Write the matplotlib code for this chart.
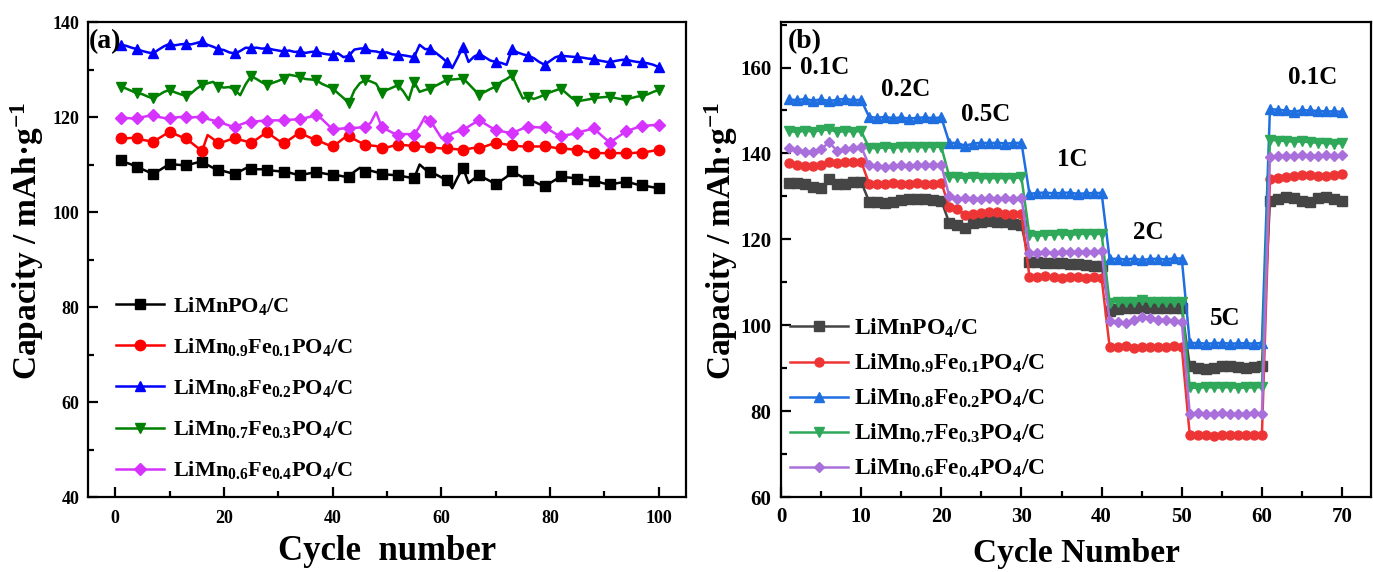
import numpy as np
import matplotlib
matplotlib.use("Agg")
import matplotlib.pyplot as plt
from matplotlib.ticker import MultipleLocator

#========================================================
# data: (a) cycling at constant rate, (b) rate capability
#========================================================
labels = ["LiMnPO$_4$/C",
          "LiMn$_{0.9}$Fe$_{0.1}$PO$_4$/C",
          "LiMn$_{0.8}$Fe$_{0.2}$PO$_4$/C",
          "LiMn$_{0.7}$Fe$_{0.3}$PO$_4$/C",
          "LiMn$_{0.6}$Fe$_{0.4}$PO$_4$/C"]

cycles_a = np.arange(1, 101)

cap_a_fe0 = [110.9, 110.4, 110.0, 109.5, 109.0, 108.5, 108.0, 108.7, 109.4, 110.1,
             110.0, 109.9, 109.9, 110.1, 110.4, 110.6, 109.9, 109.3, 108.9, 108.6,
             108.3, 108.0, 108.6, 109.2, 109.1, 109.0, 109.0, 108.9, 108.7, 108.6,
             108.4, 108.3, 108.0, 107.8, 108.0, 108.2, 108.4, 108.2, 108.0, 107.8,
             107.7, 107.5, 107.4, 108.5, 109.3, 108.4, 108.7, 108.4, 108.0, 107.9,
             107.8, 107.7, 107.5, 107.3, 107.1, 110.0, 109.0, 108.4, 107.9, 107.3,
             106.8, 105.0, 107.3, 109.3, 106.1, 107.0, 107.7, 107.1, 106.5, 105.8,
             106.6, 107.4, 108.6, 107.9, 107.3, 106.8, 106.4, 105.9, 105.4, 106.1,
             106.8, 107.5, 107.3, 107.2, 107.0, 106.8, 106.7, 106.5, 106.3, 106.0,
             105.8, 106.0, 106.2, 106.3, 106.1, 105.8, 105.6, 105.4, 105.2, 105.0]

cap_a_fe1 = [115.5, 115.5, 115.6, 115.5, 115.2, 115.0, 114.8, 115.5, 116.2, 116.9,
             116.4, 115.9, 115.5, 114.6, 113.7, 112.9, 116.2, 115.4, 114.5, 114.8,
             115.2, 115.5, 115.2, 114.9, 114.6, 115.3, 116.1, 116.9, 115.9, 115.1,
             114.5, 115.2, 116.0, 116.6, 116.1, 115.6, 115.2, 114.7, 114.2, 113.8,
             114.6, 115.5, 115.9, 115.3, 114.7, 114.1, 114.0, 113.9, 113.4, 113.6,
             113.9, 114.1, 114.1, 114.0, 113.9, 113.8, 113.7, 113.6, 113.5, 113.4,
             113.4, 113.3, 113.2, 113.1, 113.3, 113.5, 113.4, 113.8, 114.2, 114.6,
             114.4, 114.2, 114.1, 113.9, 113.8, 113.8, 113.8, 113.8, 113.8, 113.7,
             113.5, 113.4, 113.3, 113.2, 113.1, 112.9, 112.6, 112.4, 112.4, 112.4,
             112.4, 112.4, 112.4, 112.4, 112.4, 112.5, 112.5, 112.7, 112.9, 113.1]

cap_a_fe2 = [135.2, 135.0, 134.6, 134.3, 133.9, 133.6, 133.4, 134.2, 134.9, 135.4,
             135.1, 135.3, 135.4, 135.3, 135.6, 135.9, 135.2, 134.8, 134.3, 134.1,
             133.6, 133.4, 133.9, 134.6, 134.5, 134.6, 134.4, 134.5, 134.2, 134.0,
             133.8, 134.0, 133.7, 133.8, 133.5, 133.7, 133.8, 133.4, 133.2, 133.1,
             133.4, 132.6, 132.9, 134.2, 134.4, 134.5, 133.9, 133.8, 133.5, 133.6,
             133.2, 133.1, 133.0, 132.8, 132.6, 135.2, 134.3, 134.3, 133.5, 132.6,
             131.6, 130.3, 132.5, 134.8, 131.6, 132.7, 133.3, 132.6, 131.9, 131.6,
             131.4, 131.0, 134.3, 133.6, 133.2, 132.9, 132.4, 131.6, 131.0, 131.8,
             132.6, 132.9, 132.8, 132.7, 132.6, 132.5, 132.3, 132.2, 131.9, 131.7,
             131.5, 131.8, 132.0, 132.1, 131.8, 131.6, 131.5, 131.3, 131.0, 130.5]

cap_a_fe3 = [126.4, 126.0, 125.5, 125.0, 124.8, 124.3, 123.9, 124.6, 125.3, 125.7,
             125.2, 124.8, 124.4, 125.0, 126.0, 126.7, 127.1, 127.4, 126.4, 126.2,
             126.3, 125.7, 124.6, 126.9, 128.6, 128.0, 127.3, 126.7, 127.2, 127.6,
             128.1, 128.9, 128.7, 128.4, 128.0, 127.9, 127.8, 127.0, 126.5, 126.0,
             125.0, 124.0, 122.9, 125.6, 127.1, 127.8, 127.5, 127.0, 125.0, 125.7,
             126.2, 126.7, 125.4, 123.6, 127.4, 125.3, 125.7, 126.0, 126.6, 127.2,
             127.8, 127.9, 128.0, 128.1, 127.0, 125.8, 124.7, 125.3, 125.9, 126.4,
             127.4, 128.0, 128.8, 126.2, 123.9, 124.3, 123.8, 124.2, 124.7, 125.2,
             125.6, 126.0, 125.0, 124.0, 123.3, 123.5, 123.7, 123.9, 124.1, 124.2,
             124.3, 124.0, 123.8, 123.6, 124.0, 124.3, 124.4, 124.8, 125.3, 125.7]

cap_a_fe4 = [119.7, 119.8, 119.7, 119.7, 120.0, 120.2, 120.4, 120.0, 119.8, 119.7,
             119.9, 120.0, 120.0, 119.9, 120.0, 120.0, 119.6, 119.3, 119.0, 118.6,
             118.2, 117.9, 118.4, 118.8, 119.0, 119.1, 119.2, 119.2, 119.3, 119.3,
             119.3, 119.4, 119.5, 119.5, 119.8, 120.1, 120.4, 119.6, 118.5, 117.4,
             117.5, 117.6, 117.6, 117.7, 117.8, 117.9, 118.8, 121.0, 118.0, 117.3,
             116.7, 116.3, 116.4, 116.4, 116.3, 118.0, 120.1, 119.2, 117.4, 115.6,
             115.6, 116.6, 117.0, 117.3, 118.0, 118.7, 119.3, 118.6, 117.9, 117.3,
             117.0, 116.8, 116.6, 117.1, 117.6, 118.0, 117.9, 117.8, 117.8, 117.2,
             116.5, 115.9, 116.2, 116.4, 116.6, 117.0, 117.3, 117.6, 116.6, 115.6,
             114.6, 115.4, 116.2, 117.0, 117.4, 117.8, 118.1, 118.2, 118.3, 118.4]

cycles_b = np.arange(1, 71)
rate_names = ["0.1C", "0.2C", "0.5C", "1C", "2C", "5C", "0.1C"]

cap_b_fe0 = [133.1, 133.1, 132.9, 132.3, 132.0, 134.0, 132.8, 133.0, 133.3, 133.4,
             128.8, 128.6, 128.4, 128.8, 129.2, 129.5, 129.5, 129.3, 129.1, 129.0,
             123.8, 123.3, 122.6, 123.8, 124.1, 124.2, 124.0, 124.0, 123.6, 123.3,
             114.8, 114.7, 114.5, 114.6, 114.4, 114.3, 114.2, 114.0, 113.9, 113.8,
             103.3, 103.8, 104.0, 104.0, 104.2, 104.1, 104.0, 104.0, 103.9, 104.0,
             90.4, 90.1, 89.8, 90.0, 90.5, 90.6, 90.3, 90.1, 90.2, 90.4,
             128.9, 129.3, 129.9, 129.6, 129.0, 128.8, 129.6, 129.9, 129.3, 129.0]

cap_b_fe1 = [137.7, 137.3, 137.0, 137.0, 137.3, 138.1, 137.8, 137.9, 138.0, 138.1,
             133.0, 132.9, 133.0, 133.1, 132.9, 133.0, 133.1, 132.9, 133.0, 133.2,
             127.5, 127.0, 125.7, 125.9, 126.1, 126.4, 126.3, 126.0, 125.9, 125.8,
             111.3, 111.2, 111.4, 111.3, 111.1, 111.3, 111.2, 111.1, 111.3, 111.0,
             95.0, 94.9, 95.1, 94.8, 95.0, 95.0, 94.9, 95.0, 95.1, 94.9,
             74.4, 74.5, 74.4, 74.3, 74.4, 74.5, 74.4, 74.4, 74.5, 74.5,
             134.0, 134.3, 134.5, 134.8, 135.0, 134.9, 134.7, 134.8, 135.0, 135.1]

cap_b_fe2 = [152.6, 152.4, 152.7, 152.3, 152.6, 152.2, 152.5, 152.7, 152.4, 152.5,
             148.5, 148.3, 148.5, 148.2, 148.4, 148.1, 148.3, 148.4, 148.2, 148.4,
             142.5, 142.4, 141.8, 142.3, 142.5, 142.4, 142.5, 142.3, 142.4, 142.5,
             130.6, 130.8, 130.9, 130.7, 130.8, 130.9, 130.6, 130.7, 130.8, 130.8,
             115.4, 115.5, 115.3, 115.5, 115.2, 115.4, 115.5, 115.3, 115.6, 115.5,
             95.8, 95.9, 95.7, 95.8, 95.9, 95.7, 95.8, 95.8, 95.7, 95.9,
             150.3, 150.2, 150.0, 149.7, 150.1, 150.0, 149.9, 149.8, 149.8, 149.7]

cap_b_fe3 = [145.2, 145.0, 145.3, 145.1, 145.4, 145.6, 145.0, 145.2, 145.1, 145.2,
             141.3, 141.2, 141.4, 141.3, 141.5, 141.4, 141.4, 141.5, 141.5, 141.6,
             134.6, 134.4, 134.3, 134.4, 134.3, 134.2, 134.3, 134.2, 134.3, 134.4,
             121.0, 120.8, 121.0, 121.1, 121.2, 121.0, 121.2, 121.3, 121.2, 121.3,
             105.2, 105.4, 105.3, 105.4, 105.8, 105.4, 105.3, 105.4, 105.4, 105.5,
             85.5, 85.4, 85.6, 85.5, 85.5, 85.6, 85.4, 85.5, 85.5, 85.6,
             143.2, 143.0, 142.9, 142.7, 142.8, 142.6, 142.5, 142.4, 142.3, 142.4]

cap_b_fe4 = [141.2, 140.8, 140.4, 140.4, 141.0, 142.6, 140.6, 141.0, 141.2, 141.6,
             137.2, 137.0, 136.9, 137.0, 137.2, 137.1, 137.3, 137.2, 137.4, 137.3,
             130.0, 129.5, 129.6, 129.4, 129.5, 129.6, 129.5, 129.6, 129.5, 129.7,
             116.8, 116.9, 117.0, 116.9, 117.1, 117.0, 117.0, 117.1, 117.0, 117.2,
             100.9, 100.7, 100.5, 101.2, 101.9, 101.6, 101.3, 101.2, 100.9, 100.8,
             79.4, 79.5, 79.3, 79.4, 79.5, 79.4, 79.3, 79.4, 79.5, 79.4,
             139.2, 139.3, 139.5, 139.4, 139.6, 139.5, 139.5, 139.6, 139.5, 139.6]

#========================================================
# style
#========================================================
plt.rcParams["font.family"] = "Liberation Serif"
plt.rcParams["font.weight"] = "bold"
plt.rcParams["axes.labelweight"] = "bold"
plt.rcParams["mathtext.fontset"] = "custom"
plt.rcParams["mathtext.rm"] = "Liberation Serif:bold"
plt.rcParams["mathtext.it"] = "Liberation Serif:bold:italic"
plt.rcParams["mathtext.bf"] = "Liberation Serif:bold"
plt.rcParams["mathtext.default"] = "rm"

markers = ["s", "o", "^", "v", "D"]
colors_a = ["#000000", "#ff0000", "#0000ff", "#008000", "#d633ff"]
colors_b = ["#454545", "#ee3535", "#1f6fe0", "#2fa85a", "#a970dc"]

fig = plt.figure(figsize=(13.73, 5.72), dpi=100)
ax1 = fig.add_axes([0.0641, 0.1311, 0.4355, 0.8304])
ax2 = fig.add_axes([0.5688, 0.1311, 0.4297, 0.8304])


def style_axis(ax, size, pad):
    for sp in ax.spines.values():
        sp.set_linewidth(1.6)
    ax.tick_params(which="both", direction="in", top=False, right=False,
                   width=1.6, labelsize=size, pad=pad)
    ax.tick_params(which="major", length=7)
    ax.tick_params(which="minor", length=4)


#========================================================
# (a) cycle performance
#========================================================
series_a = [cap_a_fe0, cap_a_fe1, cap_a_fe2, cap_a_fe3, cap_a_fe4]
for vals, m, c, lab in zip(series_a, markers, colors_a, labels):
    ms = 6.5 if m == "D" else 7.5
    ax1.plot(cycles_a, vals, color=c, lw=1.8, marker=m, ms=ms,
             markevery=3, label=lab)

ax1.set_xlim(-5, 105)
ax1.set_ylim(40, 140)
ax1.xaxis.set_major_locator(MultipleLocator(20))
ax1.xaxis.set_minor_locator(MultipleLocator(10))
ax1.yaxis.set_major_locator(MultipleLocator(20))
ax1.yaxis.set_minor_locator(MultipleLocator(10))
style_axis(ax1, 13, 6)
ax1.tick_params(axis="x", pad=9)
ax1.set_xlabel("Cycle  number", fontsize=25, labelpad=6)
ax1.set_ylabel("Capacity / mAh\u00b7g$^{-1}$", fontsize=24)
ax1.yaxis.set_label_coords(-0.07, 0.54)
ax1.text(0.002, 0.985, "(a)", transform=ax1.transAxes, ha="left", va="top",
         fontsize=20)
ax1.legend(loc="lower left", bbox_to_anchor=(0.02, 0.0), frameon=False,
           fontsize=16, handlelength=2.2, labelspacing=0.86,
           borderaxespad=0.3, handletextpad=0.4)

#========================================================
# (b) rate capability
#========================================================
series_b = [cap_b_fe0, cap_b_fe1, cap_b_fe2, cap_b_fe3, cap_b_fe4]
for vals, m, c, lab in zip(series_b, markers, colors_b, labels):
    ms = 5.5 if m == "D" else 6.5
    ax2.plot(cycles_b, vals, color=c, lw=1.8, marker=m, ms=ms, label=lab)

# rate labels above each step
rate_x = [5.4, 15.6, 25.6, 36.3, 45.8, 55.4, 66.3]
rate_y = [160.0, 155.0, 149.0, 138.5, 121.7, 101.6, 157.6]
for name, x, y in zip(rate_names, rate_x, rate_y):
    ax2.text(x, y, name, ha="center", va="center", fontsize=18)

ax2.set_xlim(0, 73.6)
ax2.set_ylim(60, 170.6)
ax2.xaxis.set_major_locator(MultipleLocator(10))
ax2.xaxis.set_minor_locator(MultipleLocator(5))
ax2.yaxis.set_major_locator(MultipleLocator(20))
ax2.yaxis.set_minor_locator(MultipleLocator(10))
style_axis(ax2, 15, 7)
ax2.set_xlabel("Cycle Number", fontsize=24, labelpad=8)
ax2.set_ylabel("Capacity / mAh\u00b7g$^{-1}$", fontsize=24)
ax2.yaxis.set_label_coords(-0.07, 0.54)
ax2.text(0.012, 0.985, "(b)", transform=ax2.transAxes, ha="left", va="top",
         fontsize=20)
ax2.legend(loc="lower left", bbox_to_anchor=(-0.012, 0.0), frameon=False,
           fontsize=17, handlelength=2.45, labelspacing=0.5,
           borderaxespad=0.3, handletextpad=0.25)

fig.savefig("out.png", dpi=100)
